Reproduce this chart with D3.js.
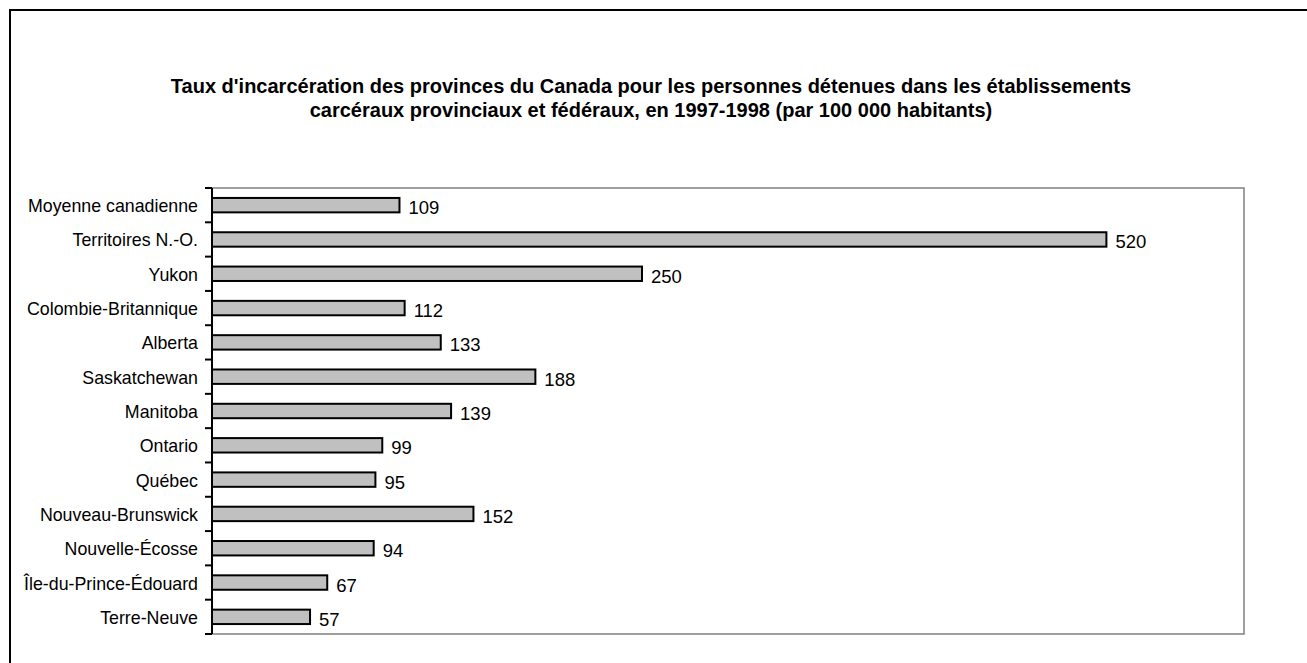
<!DOCTYPE html>
<html>
<head>
<meta charset="utf-8">
<script src="https://cdn.jsdelivr.net/npm/d3@7"></script>
<style>
  body { margin: 0; background: #fff; }
  text { font-family: "Liberation Sans", Arial, sans-serif; }
</style>
</head>
<body>
<svg id="chart" width="1307" height="663"></svg>
<script>
// Categories, top to bottom as in the picture
const provinces = [
    "Moyenne canadienne", "Territoires N.-O.", "Yukon", "Colombie-Britannique",
    "Alberta", "Saskatchewan", "Manitoba", "Ontario", "Québec",
    "Nouveau-Brunswick", "Nouvelle-Écosse", "Île-du-Prince-Édouard", "Terre-Neuve"
];
const rates = [109, 520, 250, 112, 133, 188, 139, 99, 95, 152, 94, 67, 57];
const titleLines = [
    "Taux d'incarcération des provinces du Canada pour les personnes détenues dans les établissements",
    "carcéraux provinciaux et fédéraux, en 1997-1998 (par 100 000 habitants)"
];

const svg = d3.select("#chart");

// Outer frame (runs off the right and bottom of the page)
svg.append("rect")
    .attr("x", 10).attr("y", 10)
    .attr("width", 1320).attr("height", 680)
    .attr("fill", "none").attr("stroke", "#000").attr("stroke-width", 2);

// Title
svg.append("g").selectAll("text")
    .data(titleLines)
    .enter()
    .append("text")
    .attr("x", 651)
    .attr("y", (d, i) => 93 + i * 24)
    .attr("text-anchor", "middle")
    .attr("font-size", 20)
    .attr("font-weight", "bold")
    .text(d => d);

const plotLeft = 212, plotTop = 188, plotRight = 1244, plotBottom = 634;

const x = d3.scaleLinear().domain([0, 600]).range([plotLeft, plotRight]);
const y = d3.scaleBand().domain(provinces).range([plotTop, plotBottom]).paddingInner(0.58).paddingOuter(0.29);

// Plot area frame: grey top, right, bottom
svg.append("path")
    .attr("d", `M${plotLeft},${plotTop}H${plotRight}V${plotBottom}H${plotLeft}`)
    .attr("fill", "none").attr("stroke", "#808080").attr("stroke-width", 1.5);

// Bars
const data = provinces.map((p, i) => ({ name: p, value: rates[i] }));
svg.append("g")
    .selectAll("rect")
    .data(data)
    .enter()
    .append("rect")
    .attr("x", x(0))
    .attr("y", d => y(d.name))
    .attr("width", d => x(d.value) - x(0))
    .attr("height", y.bandwidth())
    .attr("fill", "#c0c0c0")
    .attr("stroke", "#000")
    .attr("stroke-width", 2);

// Value labels
svg.append("g")
    .selectAll("text")
    .data(data)
    .enter()
    .append("text")
    .attr("x", d => x(d.value) + 9)
    .attr("y", d => y(d.name) + y.bandwidth() / 2 + 9)
    .attr("font-size", 18.5)
    .text(d => d.value);

// Category axis: ticks on the band boundaries
const step = y.step();
const tickYs = d3.range(provinces.length + 1).map(i => plotTop + i * step);
const axis = svg.append("g");
axis.append("line")
    .attr("x1", plotLeft).attr("x2", plotLeft)
    .attr("y1", plotTop).attr("y2", plotBottom)
    .attr("stroke", "#000").attr("stroke-width", 2);
axis.selectAll("line.tick")
    .data(tickYs)
    .enter()
    .append("line")
    .attr("class", "tick")
    .attr("x1", plotLeft - 7).attr("x2", plotLeft)
    .attr("y1", d => d).attr("y2", d => d)
    .attr("stroke", "#000").attr("stroke-width", 2);
axis.selectAll("text")
    .data(provinces)
    .enter()
    .append("text")
    .attr("x", 198)
    .attr("y", d => y(d) + y.bandwidth() / 2 + 7)
    .attr("text-anchor", "end")
    .attr("font-size", 17.8)
    .text(d => d);
</script>
</body>
</html>
